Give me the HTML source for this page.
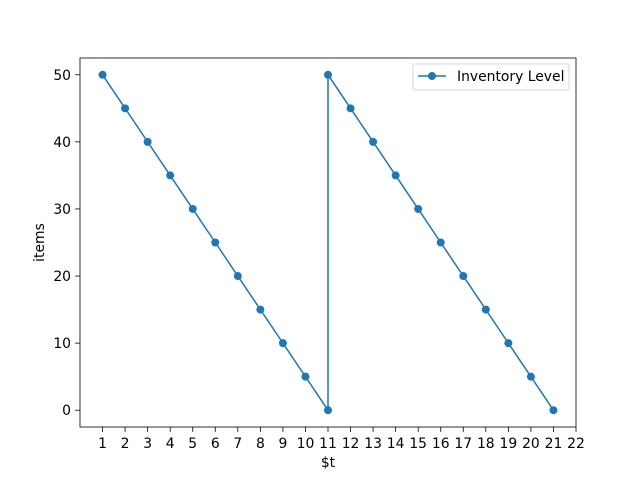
<!DOCTYPE html>
<html><head><meta charset="utf-8"><style>
body{margin:0;background:#fff;}
svg{display:block;font-family:"DejaVu Sans","Liberation Sans",sans-serif;}
</style></head><body>
<svg id="chart" width="640" height="480">
<rect width="640" height="480" fill="#fff"/>
<g id="plot"></g>
</svg>
<script>
const xValues = [1,2,3,4,5,6,7,8,9,10,11,11,12,13,14,15,16,17,18,19,20,21];
const yValues = [50,45,40,35,30,25,20,15,10,5,0,50,45,40,35,30,25,20,15,10,5,0];
const xTicks = [1,2,3,4,5,6,7,8,9,10,11,12,13,14,15,16,17,18,19,20,21,22];
const yTicks = [0,10,20,30,40,50];
const seriesName = "Inventory Level";

const L=80,R=576,T=58,B=427;
const xMin=0,xMax=22,yMin=-2.5,yMax=52.5;
const sx=v=>L+(v-xMin)/(xMax-xMin)*(R-L);
const sy=v=>B-(v-yMin)/(yMax-yMin)*(B-T);
const NS="http://www.w3.org/2000/svg";
const g=document.getElementById('plot');
const FS=13.9;
function mk(t,a,txt){const e=document.createElementNS(NS,t);for(const k in a)e.setAttribute(k,a[k]);if(txt!==undefined)e.textContent=txt;g.appendChild(e);return e;}
const c='#1f77b4';

xTicks.forEach(v=>{
  const t=mk('line',{x1:sx(v),x2:sx(v),y1:B,y2:B+4.9,stroke:'#000','stroke-width':0.8});
  
  
  const l=mk('text',{x:sx(v),y:B+21,'text-anchor':'middle','font-size':FS},String(v));
  
  
});
yTicks.forEach(v=>{
  const t=mk('line',{x1:L-4.9,x2:L,y1:sy(v),y2:sy(v),stroke:'#000','stroke-width':0.8});
  
  
  const l=mk('text',{x:L-9,y:sy(v)+5,'text-anchor':'end','font-size':FS},String(v));
  
  
});

const line=mk('polyline',{points:xValues.map((x,i)=>sx(x)+','+sy(yValues[i])).join(' '),fill:'none',stroke:c,'stroke-width':1.5});


xValues.forEach((x,i)=>{
  const p=mk('circle',{cx:sx(x),cy:sy(yValues[i]),r:4,fill:c});
  
  
});

const frame=mk('rect',{x:L,y:T,width:R-L,height:B-T,fill:'none',stroke:'#000','stroke-width':0.8});



const xt=mk('text',{x:(L+R)/2,y:467,'text-anchor':'middle','font-size':FS},'$t');


const yt=mk('text',{x:0,y:0,'text-anchor':'middle','font-size':FS,transform:`translate(44,${(T+B)/2}) rotate(-90)`},'items');



const lg=mk('rect',{x:413,y:64,width:156,height:26,rx:2,fill:'#fff',stroke:'#ccc','stroke-width':0.8});


const ll=mk('line',{x1:418,x2:446,y1:76,y2:76,stroke:c,'stroke-width':1.5});


const lm=mk('circle',{cx:432,cy:76,r:4,fill:c});


const lt=mk('text',{x:457,y:81,'font-size':FS},seriesName);


</script>
</body></html>
